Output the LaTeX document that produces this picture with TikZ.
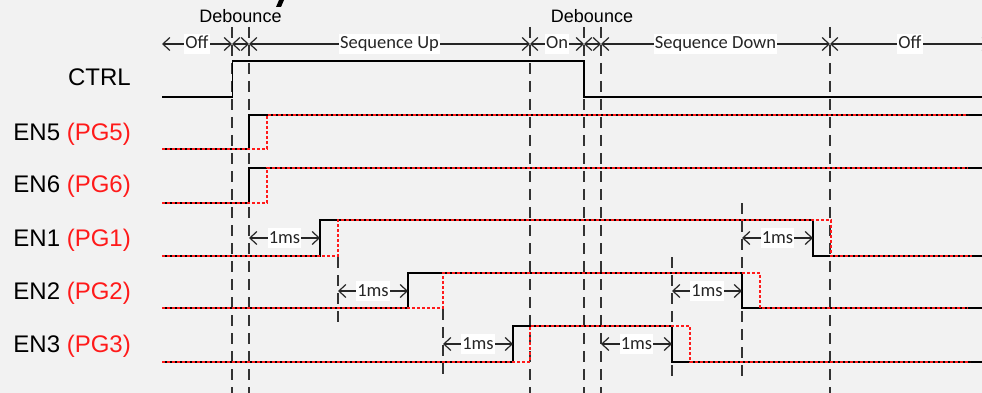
\documentclass[tikz,border=0pt]{standalone}
\usepackage{fontspec}
\setmainfont{Liberation Sans}
\newfontfamily\calfont{Carlito}
\usetikzlibrary{arrows.meta}
\definecolor{bg}{HTML}{F2F2F2}
\definecolor{pgred}{HTML}{FF1A1A}
\begin{document}
\begin{tikzpicture}[x=1pt,y=-1pt,
  sig/.style={line width=1.8pt, black, line join=miter},
  pg/.style={line width=2.6pt, pgred, dash pattern=on 2.6pt off 2.4pt},
  guide/.style={line width=1.4pt, black!80, dash pattern=on 11pt off 7pt},
  dim/.style={line width=1.2pt, black!85, {Straight Barb[length=7pt,width=13pt]}-{Straight Barb[length=7pt,width=13pt]}},
  lbl/.style={font=\calfont\fontsize{18.5}{18.5}\selectfont, fill=white, inner xsep=1pt, inner ysep=0pt, text height=15pt, text depth=5pt},
  sname/.style={font=\fontsize{24}{24}\selectfont, anchor=base east, inner sep=0pt},
  deb/.style={font=\fontsize{18}{18}\selectfont, anchor=base, inner sep=0pt},
]
\fill[bg] (0,0) rectangle (982,393);
\useasboundingbox (0,0) rectangle (982,393);
% cropped title fragment
\fill[black] (276,7) -- (281,7) -- (284,0) -- (279,0) -- cycle;

% main guide lines
\foreach \gx/\gn in {232/ga,249/gb,530/gc,584/gd,601/ge,830/gf}{
  \coordinate (\gn top) at (\gx,27);
  \coordinate (\gn bot) at (\gx,393);
  \draw[guide] (\gn top) -- (\gn bot);
}
% short guide lines
\coordinate (s1t) at (338,257); \coordinate (s1b) at (338,324);
\coordinate (s2t) at (443,309); \coordinate (s2b) at (443,378);
\coordinate (s3t) at (672,257); \coordinate (s3b) at (672,378);
\coordinate (s4t) at (742,203); \coordinate (s4b) at (742,378);
\draw[guide] (s1t) -- (s1b);
\draw[guide] (s2t) -- (s2b);
\draw[guide] (s3t) -- (s3b);
\draw[guide] (s4t) -- (s4b);

% labels
\node[deb] (deb1) at (240.5,23) {Debounce};
\node[deb] (deb2) at (592,23) {Debounce};
\node[sname] (lctrl) at (131,86) {CTRL};
\node[sname] (len5) at (131,140) {EN5 \textcolor{pgred}{(PG5)}};
\node[sname] (len6) at (131,192) {EN6 \textcolor{pgred}{(PG6)}};
\node[sname] (len1) at (131,246) {EN1 \textcolor{pgred}{(PG1)}};
\node[sname] (len2) at (131,299) {EN2 \textcolor{pgred}{(PG2)}};
\node[sname] (len3) at (131,352) {EN3 \textcolor{pgred}{(PG3)}};

% phase timeline
\coordinate (p0) at (162,44);
\coordinate (p1) at (232,44);
\coordinate (p2) at (249,44);
\coordinate (p3) at (530,44);
\coordinate (p4) at (584,44);
\coordinate (p5) at (601,44);
\coordinate (p6) at (830,44);
\coordinate (p7) at (990,44);
\draw[dim] (p0) -- (p1) node[midway,lbl] {Off};
\draw[dim] (p1) -- (p2);
\draw[dim] (p2) -- (p3) node[midway,lbl] {Sequence Up};
\draw[dim] (p3) -- (p4) node[midway,lbl] {On};
\draw[dim] (p4) -- (p5);
\draw[dim] (p5) -- (p6) node[midway,lbl] {Sequence Down};
\draw[dim] (p6) -- (p7) node[midway,lbl] {Off};

% CTRL
\draw[sig] (162,97) -- (232.5,97) -- (232.5,61) -- (584,61) -- (584,97) -- (982,97);
% EN5
\draw[sig] (162,149) -- (249,149) -- (249,115) -- (982,115);
\draw[pg]  (162,149) -- (267,149) -- (267,115) -- (968,115);
% EN6
\draw[sig] (162,203) -- (249,203) -- (249,168) -- (982,168);
\draw[pg]  (162,203) -- (267,203) -- (267,168) -- (968,168);
% EN1
\draw[sig] (162,256) -- (320,256) -- (320,220) -- (813,220) -- (813,256) -- (982,256);
\draw[pg]  (162,256) -- (338,256) -- (338,220) -- (831,220) -- (831,256) -- (972,256);
% EN2
\draw[sig] (162,308) -- (408,308) -- (408,273) -- (742,273) -- (742,308) -- (982,308);
\draw[pg]  (162,308) -- (443,308) -- (443,273) -- (760,273) -- (760,308) -- (968,308);
% EN3
\draw[sig] (162,362) -- (513,362) -- (513,326) -- (672,326) -- (672,362) -- (982,362);
\draw[pg]  (162,362) -- (530,362) -- (530,326) -- (690,326) -- (690,362) -- (970,362);

% 1ms delays
\coordinate (a1l) at (249,238); \coordinate (a1r) at (320,238);
\coordinate (a2l) at (338,291); \coordinate (a2r) at (408,291);
\coordinate (a3l) at (443,344); \coordinate (a3r) at (513,344);
\coordinate (d3l) at (601,344); \coordinate (d3r) at (672,344);
\coordinate (d2l) at (672,291); \coordinate (d2r) at (742,291);
\coordinate (d1l) at (742,238); \coordinate (d1r) at (813,238);
\foreach \l/\r in {a1l/a1r,a2l/a2r,a3l/a3r,d3l/d3r,d2l/d2r,d1l/d1r}{
  \draw[dim] (\l) -- (\r) node[midway,lbl] {1ms};
}
\end{tikzpicture}
\end{document}
